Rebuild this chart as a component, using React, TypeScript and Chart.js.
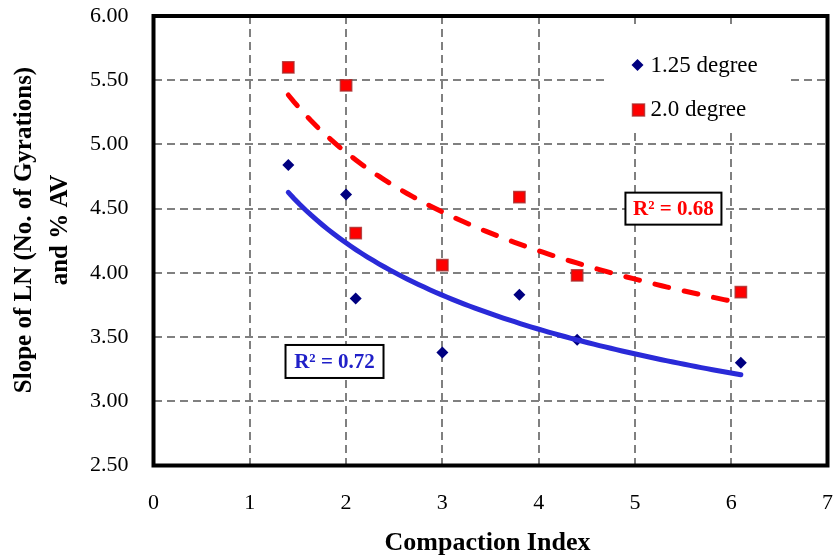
import React, { useEffect, useRef } from 'react';
import { Chart, registerables } from 'chart.js';

Chart.register(...registerables);

// ---- data ----
const compactionIndex = [1.4, 2.0, 2.1, 3.0, 3.8, 4.4, 6.1];
const slope125 = [4.84, 4.61, 3.80, 3.38, 3.83, 3.48, 3.30];
const slope20 = [5.60, 5.46, 4.31, 4.06, 4.59, 3.98, 3.85];
const seriesNames = ['1.25 degree', '2.0 degree'];
const r2Labels = ['R² = 0.72', 'R² = 0.68'];
const xTickValues = [0, 1, 2, 3, 4, 5, 6, 7];
const yTickValues = [2.5, 3.0, 3.5, 4.0, 4.5, 5.0, 5.5, 6.0];
const xTitle = 'Compaction Index';
const yTitleLines = ['Slope of LN (No. of Gyrations)', 'and % AV'];

const SERIF = "'Liberation Serif', 'Times New Roman', serif";

// least-squares power trendline (y = c * x^b), fitted in log-log space as the spreadsheet does
function powerFit(xs: number[], ys: number[]) {
  const lx = xs.map((v) => Math.log(v));
  const ly = ys.map((v) => Math.log(v));
  const n = xs.length;
  const mx = lx.reduce((s, v) => s + v, 0) / n;
  const my = ly.reduce((s, v) => s + v, 0) / n;
  let sxy = 0;
  let sxx = 0;
  for (let i = 0; i < n; i++) {
    sxy += (lx[i] - mx) * (ly[i] - my);
    sxx += (lx[i] - mx) * (lx[i] - mx);
  }
  const b = sxy / sxx;
  return { c: Math.exp(my - b * mx), b };
}

function trendPoints(xs: number[], ys: number[]) {
  const { c, b } = powerFit(xs, ys);
  const x0 = Math.min(...xs);
  const x1 = Math.max(...xs);
  const pts: { x: number; y: number }[] = [];
  const steps = 80;
  for (let i = 0; i <= steps; i++) {
    const x = x0 + ((x1 - x0) * i) / steps;
    pts.push({ x, y: c * Math.pow(x, b) });
  }
  return pts;
}

const overlayPlugin = {
  id: 'overlay',
  beforeDatasetsDraw(chart: any) {
    const { ctx, chartArea: a } = chart;
    ctx.save();
    // legend box
    const lx = a.right - 223;
    const ly = a.top + 12;
    ctx.fillStyle = '#ffffff';
    ctx.fillRect(lx, ly, 183, 102);
    // diamond
    const dx = lx + 33;
    const dy = ly + 37;
    ctx.fillStyle = '#000080';
    ctx.beginPath();
    ctx.moveTo(dx, dy - 6);
    ctx.lineTo(dx + 6, dy);
    ctx.lineTo(dx, dy + 6);
    ctx.lineTo(dx - 6, dy);
    ctx.closePath();
    ctx.fill();
    // square
    const sx = lx + 34;
    const sy = ly + 82;
    ctx.fillStyle = '#ff0000';
    ctx.fillRect(sx - 6, sy - 6, 12, 12);
    ctx.strokeStyle = 'rgba(170,40,40,0.8)';
    ctx.lineWidth = 1.5;
    ctx.strokeRect(sx - 6, sy - 6, 12, 12);
    ctx.fillStyle = '#000';
    ctx.font = `23px ${SERIF}`;
    ctx.textAlign = 'left';
    ctx.textBaseline = 'middle';
    ctx.fillText(seriesNames[0], lx + 46, dy + 1);
    ctx.fillText(seriesNames[1], lx + 46, sy);
    ctx.restore();
  },
  afterDatasetsDraw(chart: any) {
    const { ctx, chartArea: a, scales } = chart;
    const xs = scales.x;
    const ys = scales.y;
    ctx.save();
    // frame
    ctx.strokeStyle = '#000';
    ctx.lineWidth = 4;
    ctx.lineJoin = 'miter';
    ctx.strokeRect(a.left, a.top, a.right - a.left, a.bottom - a.top);
    // R² boxes
    const boxes = [
      { cx: xs.getPixelForValue(1.88), cy: ys.getPixelForValue(3.31), w: 98, h: 33, color: '#2020c8', text: r2Labels[0] },
      { cx: xs.getPixelForValue(5.40), cy: ys.getPixelForValue(4.50), w: 96, h: 32, color: '#ff0000', text: r2Labels[1] },
    ];
    for (const bx of boxes) {
      ctx.fillStyle = '#fff';
      ctx.fillRect(bx.cx - bx.w / 2, bx.cy - bx.h / 2, bx.w, bx.h);
      ctx.strokeStyle = '#000';
      ctx.lineWidth = 2;
      ctx.strokeRect(bx.cx - bx.w / 2, bx.cy - bx.h / 2, bx.w, bx.h);
      ctx.fillStyle = bx.color;
      ctx.font = `bold 21px ${SERIF}`;
      ctx.textAlign = 'center';
      ctx.textBaseline = 'middle';
      ctx.fillText(bx.text, bx.cx, bx.cy + 1);
    }
    ctx.restore();
  },
  afterDraw(chart: any) {
    const { ctx, chartArea: a } = chart;
    ctx.save();
    ctx.fillStyle = '#000';
    ctx.font = `bold 26px ${SERIF}`;
    ctx.textAlign = 'center';
    ctx.textBaseline = 'alphabetic';
    ctx.fillText(xTitle, (a.left + a.right) / 2 - 3, 550);
    ctx.font = `bold 25px ${SERIF}`;
    const cy = 230;
    const baselines = [31, 67];
    yTitleLines.forEach((line, i) => {
      ctx.save();
      ctx.translate(baselines[i], cy);
      ctx.rotate(-Math.PI / 2);
      ctx.fillText(line, 0, 0);
      ctx.restore();
    });
    ctx.restore();
  },
};

export default function App() {
  const canvasRef = useRef<HTMLCanvasElement | null>(null);

  useEffect(() => {
    const canvas = canvasRef.current;
    if (!canvas) return;
    const pts125 = compactionIndex.map((x, i) => ({ x, y: slope125[i] }));
    const pts20 = compactionIndex.map((x, i) => ({ x, y: slope20[i] }));

    const chart = new Chart(canvas, {
      type: 'scatter',
      data: {
        datasets: [
          {
            label: 'trend 1.25',
            data: trendPoints(compactionIndex, slope125),
            showLine: true,
            borderColor: '#2a2ad8',
            borderWidth: 5,
            borderCapStyle: 'round',
            pointRadius: 0,
            tension: 0,
          } as any,
          {
            label: 'trend 2.0',
            data: trendPoints(compactionIndex, slope20),
            showLine: true,
            borderColor: '#ff0000',
            borderWidth: 5,
            borderDash: [14, 16],
            borderCapStyle: 'round',
            pointRadius: 0,
            tension: 0,
          } as any,
          {
            label: seriesNames[0],
            data: pts125,
            pointStyle: 'rectRot',
            pointRadius: 6,
            backgroundColor: '#000080',
            borderColor: '#000080',
            borderWidth: 0,
          },
          {
            label: seriesNames[1],
            data: pts20,
            pointStyle: 'rect',
            pointRadius: 8,
            backgroundColor: '#ff0000',
            borderColor: 'rgba(170,40,40,0.8)',
            borderWidth: 1.5,
          },
        ],
      },
      options: {
        responsive: false,
        animation: false,
        events: [],
        layout: { padding: { top: 16, right: 7, left: 0, bottom: 0 } },
        plugins: {
          legend: { display: false },
          tooltip: { enabled: false },
          title: { display: false },
        },
        scales: {
          x: {
            type: 'linear',
            min: 0,
            max: 7,
            afterBuildTicks: (scale: any) => {
              scale.ticks = xTickValues.map((v) => ({ value: v }));
            },
            afterFit: (scale: any) => {
              scale.height = 90.5;
              scale.paddingLeft = 0;
              scale.paddingRight = 0;
              scale.paddingTop = 0;
              scale.paddingBottom = 0;
            },
            grid: { color: '#808080', lineWidth: 2, drawTicks: false },
            border: { display: false, dash: [8, 5] },
            ticks: {
              color: '#000',
              padding: 25,
              font: { family: SERIF, size: 22 },
              callback: (v: any) => String(v),
              maxRotation: 0,
            },
          },
          y: {
            type: 'linear',
            min: 2.5,
            max: 6,
            afterBuildTicks: (scale: any) => {
              scale.ticks = yTickValues.map((v) => ({ value: v }));
            },
            afterFit: (scale: any) => {
              scale.width = 153.5;
              scale.paddingLeft = 0;
              scale.paddingRight = 0;
              scale.paddingTop = 0;
              scale.paddingBottom = 0;
            },
            grid: { color: '#808080', lineWidth: 2, drawTicks: false },
            border: { display: false, dash: [8, 5] },
            ticks: {
              color: '#000',
              padding: 25,
              font: { family: SERIF, size: 22 },
              callback: (v: any) => Number(v).toFixed(2),
            },
          },
        },
      },
      plugins: [overlayPlugin],
    });
    return () => chart.destroy();
  }, []);

  return (
    <div style={{ position: 'absolute', left: 0, top: 0, width: 837, height: 556, background: '#fff' }}>
      <canvas ref={canvasRef} width={837} height={556} />
    </div>
  );
}
